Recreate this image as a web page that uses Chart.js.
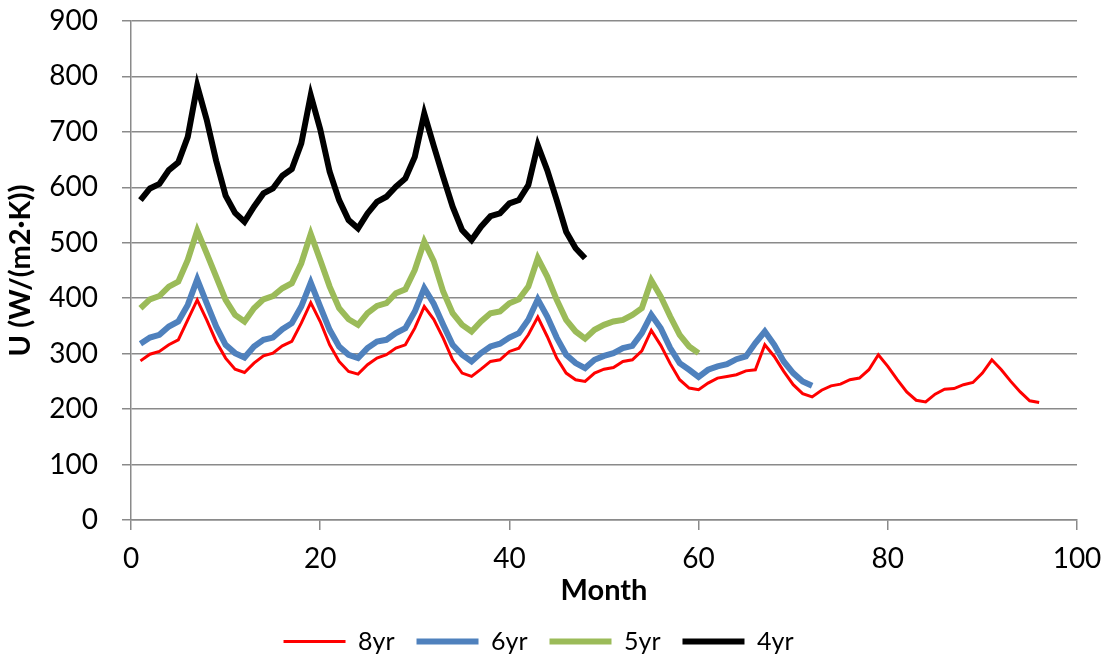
<!DOCTYPE html>
<html>
<head>
<meta charset="utf-8">
<script src="https://cdn.jsdelivr.net/npm/chart.js@4"></script>
<style>
  html, body { margin: 0; padding: 0; background: #fff; }
  #wrap { width: 1110px; height: 657px; }
</style>
</head>
<body>
<div id="wrap"><canvas id="uChart"></canvas></div>
<script>
// monthly U values (month 1 .. n)
const u8yr = [287, 299, 304, 316, 325, 361, 397, 361, 322, 292, 272, 266,
              283, 296, 301, 314, 322, 355, 392, 358, 316, 286, 268, 263,
              280, 292, 298, 310, 316, 346, 385, 362, 328, 289, 265, 259,
              272, 286, 289, 304, 310, 334, 366, 331, 292, 265, 253, 250,
              265, 272, 275, 286, 289, 305, 342, 315, 282, 253, 238, 235,
              247, 256, 259, 262, 269, 271, 316, 295, 268, 244, 228, 222,
              234, 242, 245, 253, 256, 271, 298, 277, 253, 231, 216, 213,
              227, 236, 237, 244, 248, 265, 289, 271, 250, 231, 215, 212];
const u6yr = [318, 329, 334, 349, 358, 388, 434, 391, 349, 316, 301, 293,
              313, 325, 329, 344, 355, 385, 428, 385, 343, 313, 298, 292,
              310, 322, 325, 337, 346, 376, 418, 390, 352, 316, 298, 286,
              301, 313, 318, 329, 337, 361, 398, 367, 329, 298, 283, 274,
              289, 296, 301, 310, 314, 337, 370, 346, 310, 283, 271, 258,
              271, 277, 281, 290, 295, 319, 340, 316, 286, 265, 250, 242];
const u5yr = [382, 398, 404, 421, 430, 469, 522, 481, 439, 397, 370, 358,
              382, 398, 404, 418, 427, 463, 516, 469, 421, 382, 362, 352,
              373, 386, 391, 409, 416, 451, 502, 467, 412, 373, 352, 340,
              358, 373, 376, 391, 398, 421, 472, 439, 397, 361, 340, 327,
              343, 352, 358, 361, 370, 382, 432, 403, 367, 334, 313, 301];
const u4yr = [577, 598, 606, 631, 645, 691, 783, 722, 648, 585, 554, 538,
              565, 589, 598, 621, 633, 679, 766, 705, 628, 577, 541, 526,
              553, 574, 583, 601, 616, 655, 733, 675, 619, 565, 523, 505,
              529, 548, 553, 571, 577, 604, 676, 631, 577, 520, 490, 472];

const seriesNames = ['8yr', '6yr', '5yr', '4yr'];
const seriesValues = [u8yr, u6yr, u5yr, u4yr];
const seriesColors = ['#ff0000', '#4f81bd', '#9bbb59', '#000000'];
const seriesWidths = [3, 6, 6, 6];

const toPoints = vals => vals.map((v, i) => ({ x: i + 1, y: v }));

const FONT = 'Lato, "Open Sans", sans-serif';
const GRID = '#8a8a8a';

const ctx = document.getElementById('uChart').getContext('2d');
new Chart(ctx, {
  type: 'line',
  data: {
    datasets: seriesNames.map((name, k) => ({
      label: name,
      data: toPoints(seriesValues[k]),
      borderColor: seriesColors[k],
      backgroundColor: seriesColors[k],
      borderWidth: seriesWidths[k],
      pointRadius: 0,
      fill: false,
      tension: 0
    }))
  },
  options: {
    responsive: true,
    maintainAspectRatio: false,
    animation: false,
    layout: { padding: { top: 21, right: 33, left: 0, bottom: -7 } },
    plugins: {
      tooltip: { enabled: false },
      legend: {
        position: 'bottom',
        labels: {
          usePointStyle: true,
          pointStyle: 'line',
          pointStyleWidth: 62,
          boxHeight: 6,
          padding: 22,
          color: '#000',
          font: { family: FONT, size: 25 }
        }
      }
    },
    scales: {
      x: {
        type: 'linear',
        min: 0,
        max: 100,
        afterFit: s => { s.height = 87; s.paddingLeft = 0; s.paddingRight = 0; },
        ticks: { stepSize: 20, color: '#000', font: { family: FONT, size: 28 }, padding: 12 },
        grid: { drawOnChartArea: false, color: GRID, lineWidth: 1.5, tickLength: 10 },
        border: { color: GRID, width: 1.5 },
        title: { display: true, text: 'Month', color: '#000', padding: { top: 0, bottom: 2 },
                 font: { family: FONT, size: 29, weight: 'bold', lineHeight: 1.0 } }
      },
      y: {
        min: 0,
        max: 900,
        afterFit: s => { s.width = 131; s.paddingTop = 0; s.paddingBottom = 0; },
        ticks: { stepSize: 100, color: '#000', font: { family: FONT, size: 28 }, padding: 24 },
        grid: { color: GRID, lineWidth: 1.5, tickLength: 9 },
        border: { color: GRID, width: 1.5 },
        title: { display: true, text: 'U (W/(m2·K))', color: '#000', padding: { top: 6, bottom: 0 },
                 font: { family: FONT, size: 29, weight: 'bold', lineHeight: 1.0 } }
      }
    }
  }
});
</script>
</body>
</html>
